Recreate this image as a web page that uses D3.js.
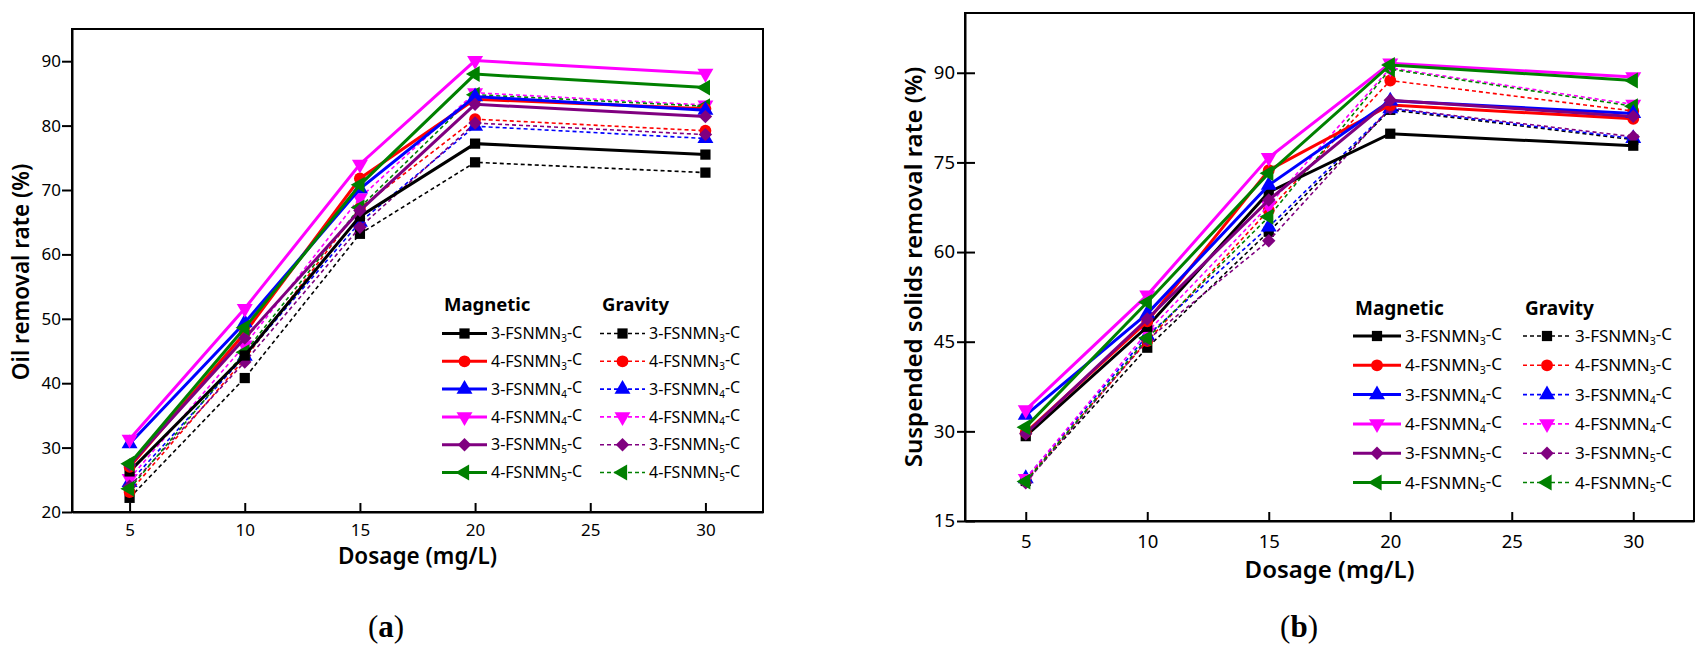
<!DOCTYPE html>
<html>
<head>
<meta charset="utf-8">
<title>removal-rate-vs-dosage</title>
<style>
body { margin: 0; background: #fff; }
svg { font-family: "Noto Sans", sans-serif; }
</style>
</head>
<body>
<script src="https://cdn.jsdelivr.net/npm/d3@7"></script>
<script>
// x values and tick labels
var dosage = [5, 10, 15, 20, 30];
var dosageTicks = [5, 10, 15, 20, 25, 30];
var oilTicks = [20, 30, 40, 50, 60, 70, 80, 90];
var ssTicks = [15, 30, 45, 60, 75, 90];

// same six coagulants in every group, in legend order
var seriesNames = ["3-FSNMN3-C", "4-FSNMN3-C", "3-FSNMN4-C", "4-FSNMN4-C", "3-FSNMN5-C", "4-FSNMN5-C"];

// (a) oil removal rate (%)
var oilMagnetic = [
    [26.3, 44.3, 65.9, 77.2, 75.5],
    [27.0, 47.8, 71.8, 84.1, 82.6],
    [30.6, 49.4, 70.2, 84.5, 82.4],
    [31.3, 51.6, 74.0, 90.1, 88.1],
    [27.3, 47.0, 66.8, 83.3, 81.4],
    [27.5, 48.6, 70.8, 88.0, 85.9]
];
var oilGravity = [
    [22.2, 40.8, 63.2, 74.3, 72.7],
    [23.1, 43.8, 67.2, 81.0, 79.2],
    [24.6, 44.2, 65.0, 79.9, 78.0],
    [25.2, 45.9, 68.8, 85.1, 83.2],
    [24.0, 43.3, 64.2, 80.4, 78.6],
    [23.6, 44.8, 67.3, 84.8, 83.0]
];

// (b) suspended solids removal rate (%)
var ssMagnetic = [
    [29.2, 47.5, 70.0, 79.8, 77.8],
    [29.8, 48.4, 73.7, 84.6, 82.3],
    [32.7, 49.7, 71.2, 85.3, 83.2],
    [33.6, 52.8, 75.8, 91.6, 89.3],
    [29.6, 48.8, 68.7, 85.4, 82.7],
    [30.7, 51.6, 73.2, 91.3, 88.7]
];
var ssGravity = [
    [21.7, 44.0, 63.4, 83.8, 78.8],
    [21.9, 45.1, 67.0, 88.7, 83.6],
    [22.1, 46.0, 64.2, 84.0, 79.0],
    [22.1, 46.6, 67.8, 90.8, 84.7],
    [21.4, 45.3, 61.9, 84.1, 79.3],
    [21.6, 45.6, 65.9, 90.6, 84.4]
];

var colors = ["#000000", "#ff0000", "#0000ff", "#ff00ff", "#800080", "#008000"];
// square, circle, up, down, diamond, left
var shapes = [
    { type: d3.symbolSquare, size: 105, rotate: 0 },
    { type: d3.symbolCircle, size: 110, rotate: 0 },
    { type: d3.symbolTriangle, size: 110, rotate: 0 },
    { type: d3.symbolTriangle, size: 110, rotate: 180 },
    { type: d3.symbolSquare, size: 90, rotate: 45 },
    { type: d3.symbolTriangle, size: 110, rotate: -90 }
];

var svg = d3.select("body").append("svg")
    .attr("width", 1706)
    .attr("height", 657);

svg.append("rect").attr("width", 1706).attr("height", 657).attr("fill", "#fff");

function addMarker(g, i, cx, cy) {
    var s = shapes[i];
    g.append("path")
        .attr("d", d3.symbol().type(s.type).size(s.size)())
        .attr("transform", "translate(" + cx + "," + cy + ") rotate(" + s.rotate + ")")
        .attr("fill", colors[i]);
}

function labelText(sel, name) {
    // "3-FSNMN3-C" -> 3-FSNMN + subscript 3 + -C
    var m = name.match(/^(\d-FSNMN)(\d)(-C)$/);
    sel.append("tspan").text(m[1]);
    sel.append("tspan").attr("font-size", "0.62em").attr("dy", "0.28em").text(m[2]);
    sel.append("tspan").attr("dy", "-0.28em").text(m[3]);
}

function drawPanel(p) {
    var x = d3.scaleLinear().domain([2.5, 32.5]).range([p.left, p.right]);
    var y = d3.scaleLinear().domain(p.yDomain).range([p.bottom, p.top]);

    var line = d3.line()
        .x(function (d, j) { return x(dosage[j]); })
        .y(function (d) { return y(d); });

    // gravity (dashed, thin) underneath, magnetic (solid, thick) on top
    [{ data: p.gravity, dash: "4,3", width: 1.6 }, { data: p.magnetic, dash: null, width: 3 }]
        .forEach(function (grp) {
            grp.data.forEach(function (vals, i) {
                svg.append("path")
                    .attr("d", line(vals))
                    .attr("fill", "none")
                    .attr("stroke", colors[i])
                    .attr("stroke-width", grp.width)
                    .attr("stroke-dasharray", grp.dash);
                var g = svg.append("g");
                vals.forEach(function (v, j) { addMarker(g, i, x(dosage[j]), y(v)); });
            });
        });

    // frame
    svg.append("rect")
        .attr("x", p.left).attr("y", p.top)
        .attr("width", p.right - p.left).attr("height", p.bottom - p.top)
        .attr("fill", "none").attr("stroke", "#000").attr("stroke-width", 2);

    var xAxis = svg.append("g")
        .attr("transform", "translate(0," + p.bottom + ")")
        .call(d3.axisBottom(x).tickValues(dosageTicks).tickSizeInner(-9).tickSizeOuter(0).tickPadding(p.xPad));
    var yAxis = svg.append("g")
        .attr("transform", "translate(" + p.left + ",0)")
        .call(d3.axisLeft(y).tickValues(p.yTicks).tickSizeInner(p.yTickOut).tickSizeOuter(0).tickPadding(p.yPad));
    if (p.yTickIn) yAxis.selectAll(".tick line").attr("x2", p.yTickIn).attr("x1", -p.yTickOut);

    [xAxis, yAxis].forEach(function (a) {
        a.attr("font-family", null).attr("font-size", p.tickFont);
        a.selectAll("line, path").attr("stroke", "#000").attr("stroke-width", 2);
        a.selectAll("text").attr("fill", "#000");
    });

    // axis titles
    svg.append("text")
        .attr("x", (p.left + p.right) / 2).attr("y", p.xTitleY)
        .attr("text-anchor", "middle")
        .attr("font-size", p.titleFont).attr("font-weight", 600)
        .text("Dosage (mg/L)");
    svg.append("text")
        .attr("transform", "translate(" + p.yTitleX + "," + p.yTitleY + ") rotate(-90)")
        .attr("text-anchor", "middle")
        .attr("font-size", p.titleFont).attr("font-weight", 600)
        .text(p.yTitle);

    // legend: two columns
    var L = p.legend;
    [{ x: L.magX, head: "Magnetic", dash: null, width: 3 }, { x: L.gravX, head: "Gravity", dash: "4,3", width: 1.6 }]
        .forEach(function (col) {
            svg.append("text")
                .attr("x", col.x + 2).attr("y", L.headY)
                .attr("font-size", L.headFont).attr("font-weight", 700)
                .text(col.head);
            seriesNames.forEach(function (name, i) {
                var cy = L.rowY + i * L.rowStep;
                svg.append("line")
                    .attr("x1", col.x).attr("x2", col.x + L.sampleW)
                    .attr("y1", cy).attr("y2", cy)
                    .attr("stroke", colors[i]).attr("stroke-width", col.width)
                    .attr("stroke-dasharray", col.dash);
                addMarker(svg, i, col.x + L.sampleW / 2, cy);
                svg.append("text")
                    .attr("x", col.x + L.sampleW + 4).attr("y", cy)
                    .attr("dy", "0.36em")
                    .attr("font-size", L.font)
                    .call(labelText, name);
            });
        });

    // panel letter
    var t = svg.append("text")
        .attr("x", p.letterX).attr("y", 637)
        .attr("text-anchor", "middle")
        .attr("font-family", "'Liberation Serif', serif")
        .attr("font-size", 31);
    t.append("tspan").text("(");
    t.append("tspan").attr("font-weight", 700).text(p.letter);
    t.append("tspan").text(")");
}

drawPanel({
    left: 72, right: 763, top: 29, bottom: 512,
    yDomain: [20, 95], yTicks: oilTicks,
    magnetic: oilMagnetic, gravity: oilGravity,
    xPad: 12, yPad: 1, yTickOut: 10, yTickIn: 0, tickFont: 17,
    titleFont: 22.5, xTitleY: 564, yTitleX: 29, yTitleY: 272,
    yTitle: "Oil removal rate (%)",
    legend: { magX: 442, gravX: 600, sampleW: 45, headY: 311, rowY: 333.5, rowStep: 27.8, headFont: 18.5, font: 16 },
    letter: "a", letterX: 386
});

drawPanel({
    left: 965, right: 1694, top: 13, bottom: 521,
    yDomain: [15, 100], yTicks: ssTicks,
    magnetic: ssMagnetic, gravity: ssGravity,
    xPad: 14, yPad: 2, yTickOut: 8, yTickIn: 10, tickFont: 18.5,
    titleFont: 24, xTitleY: 578, yTitleX: 922, yTitleY: 267,
    yTitle: "Suspended solids removal rate (%)",
    legend: { magX: 1353, gravX: 1523, sampleW: 48, headY: 315, rowY: 336, rowStep: 29.3, headFont: 19, font: 17 },
    letter: "b", letterX: 1299
});
</script>
</body>
</html>
